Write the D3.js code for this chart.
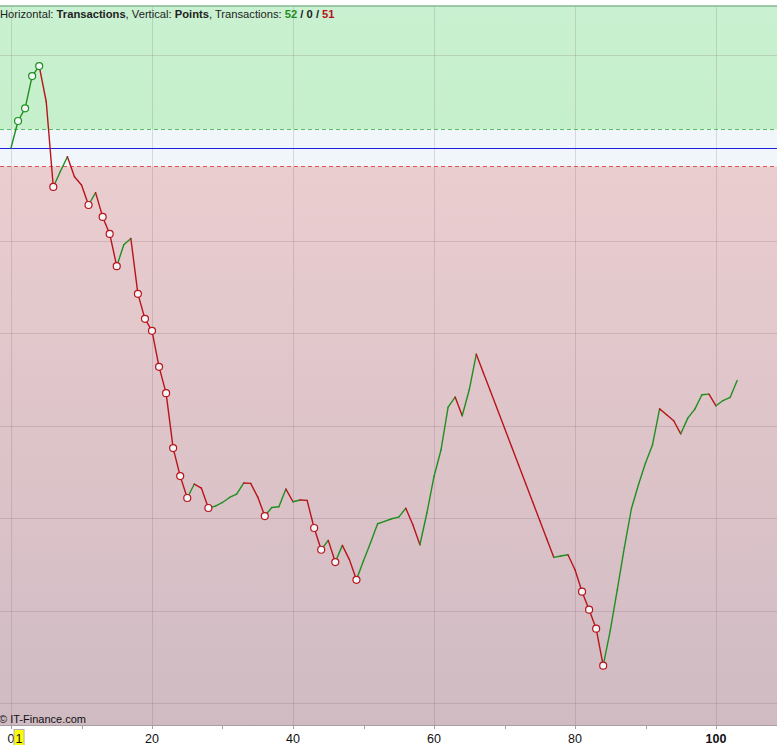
<!DOCTYPE html>
<html>
<head>
<meta charset="utf-8">
<script src="https://cdn.jsdelivr.net/npm/d3@7"></script>
<style>
  html, body { margin: 0; padding: 0; background: #ffffff; }
  svg { display: block; }
  text { font-family: "Liberation Sans", Arial, sans-serif; }
</style>
</head>
<body>
<svg id="chart" width="777" height="745"></svg>
<script>
// ---- data ----
const transactions = d3.range(0, 104);
const points = [
  0, 29.2, 42.9, 77.8, 88.6, 50.0, -42.1, -25.4, -9.4, -31.0,
  -40.0, -61.6, -48.3, -74.5, -92.9, -127.8, -104.5, -97.8, -157.7, -184.7,
  -197.7, -236.6, -265.0, -324.4, -354.7, -378.4, -363.3, -367.6, -389.2, -387.1,
  -383.2, -377.8, -374.1, -362.2, -362.6, -377.4, -397.9, -388.6, -387.8, -368.7,
  -382.4, -380.6, -381.0, -410.8, -434.3, -424.2, -447.6, -429.6, -445.0, -466.8,
  -446.2, -426.7, -406.2, -403.7, -400.8, -399.0, -389.5, -407.3, -428.9, -394.3,
  -355.1, -326.2, -280.1, -269.3, -289.5, -261.4, -222.9, -242.9, -262.8, -282.8,
  -302.8, -322.8, -342.8, -362.8, -382.7, -402.7, -422.7, -442.6, -441.1, -439.7,
  -455.9, -479.7, -499.1, -519.6, -559.6, -521.8, -477.5, -432.1, -390.0, -364.1,
  -340.6, -320.8, -282.0, -288.4, -294.9, -309.0, -292.0, -282.3, -266.8, -266.1,
  -278.7, -273.0, -269.7, -251.4
];
const xMajorTicks = [0, 20, 40, 60, 80, 100];
const xMinorTicks = [10, 30, 50, 70, 90];
const yGridTicks = [100, 0, -100, -200, -300, -400, -500, -600];
const upperBand = 20;
const lowerBand = -20;
const highlightedX = 1;

// ---- layout ----
const plotTop = 6, plotBottom = 725, plotLeft = 0, plotRight = 777;
const crisp = v => Math.round(v) + 0.5;

const svg = d3.select("#chart");
const x = d3.scaleLinear().domain([0, 100]).range([11, 716]);
const y = d3.scaleLinear().domain([0, -600]).range([148, 703]);

const defs = svg.append("defs");
const rg = defs.append("linearGradient").attr("id", "redGrad").attr("x1", 0).attr("y1", 0).attr("x2", 0).attr("y2", 1);
rg.append("stop").attr("offset", "0%").attr("stop-color", "#eacdcf");
rg.append("stop").attr("offset", "100%").attr("stop-color", "#d0bbc3");
const gg = defs.append("linearGradient").attr("id", "greenGrad").attr("x1", 0).attr("y1", 0).attr("x2", 0).attr("y2", 1);
gg.append("stop").attr("offset", "0%").attr("stop-color", "#c9f1d1");
gg.append("stop").attr("offset", "100%").attr("stop-color", "#c6efcb");
defs.append("clipPath").attr("id", "plotClip").append("rect")
  .attr("x", plotLeft).attr("y", plotTop).attr("width", plotRight - plotLeft).attr("height", plotBottom - plotTop);

// zones
svg.append("rect").attr("x", plotLeft).attr("y", plotTop).attr("width", plotRight - plotLeft)
  .attr("height", y(upperBand) - plotTop).attr("fill", "url(#greenGrad)");
svg.append("rect").attr("x", plotLeft).attr("y", y(upperBand)).attr("width", plotRight - plotLeft)
  .attr("height", y(lowerBand) - y(upperBand)).attr("fill", "#f0f6fa");
svg.append("rect").attr("x", plotLeft).attr("y", y(lowerBand)).attr("width", plotRight - plotLeft)
  .attr("height", plotBottom - y(lowerBand)).attr("fill", "url(#redGrad)");

// grid
const grid = svg.append("g");
grid.selectAll(".hg").data(yGridTicks).enter().append("line")
  .attr("x1", plotLeft).attr("x2", plotRight)
  .attr("y1", d => crisp(y(d))).attr("y2", d => crisp(y(d)))
  .attr("stroke", "#6a5058").attr("stroke-opacity", 0.18).attr("stroke-width", 1);
grid.selectAll(".vg").data(xMajorTicks).enter().append("line")
  .attr("y1", plotTop).attr("y2", plotBottom)
  .attr("x1", d => crisp(x(d))).attr("x2", d => crisp(x(d)))
  .attr("stroke", "#6a5058").attr("stroke-opacity", 0.18).attr("stroke-width", 1);

// band lines
svg.append("line").attr("x1", plotLeft).attr("x2", plotRight)
  .attr("y1", y(upperBand)).attr("y2", y(upperBand))
  .attr("stroke", "#55c060").attr("stroke-width", 1).attr("stroke-dasharray", "4,3");
svg.append("line").attr("x1", plotLeft).attr("x2", plotRight)
  .attr("y1", y(lowerBand)).attr("y2", y(lowerBand))
  .attr("stroke", "#e05555").attr("stroke-width", 1).attr("stroke-dasharray", "4,3");
svg.append("line").attr("x1", plotLeft).attr("x2", plotRight)
  .attr("y1", crisp(y(0))).attr("y2", crisp(y(0)))
  .attr("stroke", "#1e1ee0").attr("stroke-width", 1.2);

// top border
svg.append("line").attr("x1", plotLeft).attr("x2", plotRight).attr("y1", plotTop).attr("y2", plotTop)
  .attr("stroke", "#86b990").attr("stroke-width", 1.5);
// bottom axis line
svg.append("line").attr("x1", plotLeft).attr("x2", plotRight).attr("y1", plotBottom + 0.5).attr("y2", plotBottom + 0.5)
  .attr("stroke", "#a5a0a3").attr("stroke-width", 1);

// series
const data = transactions.map((t, i) => ({ t, v: points[i] }));
const segs = [];
for (let i = 1; i < data.length; i++) segs.push({ a: data[i - 1], b: data[i], up: data[i].v > data[i - 1].v, flat: data[i].v === data[i - 1].v });
const gLine = svg.append("g").attr("clip-path", "url(#plotClip)");
gLine.selectAll(".seg").data(segs).enter().append("line")
  .attr("x1", d => x(d.a.t)).attr("y1", d => y(d.a.v))
  .attr("x2", d => x(d.b.t)).attr("y2", d => y(d.b.v))
  .attr("stroke", d => d.up ? "#1f8f1f" : "#b8141a")
  .attr("stroke-width", 1.4).attr("stroke-linecap", "round");

// markers at new extremes
let runMax = data[0].v, runMin = data[0].v;
const marks = [];
for (let i = 1; i < data.length; i++) {
  const d = data[i];
  if (d.v > runMax) { runMax = d.v; marks.push({ ...d, c: "#1f8f1f" }); }
  if (d.v < runMin) { runMin = d.v; marks.push({ ...d, c: "#b8141a" }); }
}
gLine.selectAll(".mk").data(marks).enter().append("circle")
  .attr("cx", d => x(d.t)).attr("cy", d => y(d.v)).attr("r", 3.5)
  .attr("fill", "#f4f7fa").attr("stroke", d => d.c).attr("stroke-width", 1.2);

// title
const nUp = segs.filter(s => s.up).length;
const nFlat = segs.filter(s => s.flat).length;
const nDown = segs.length - nUp - nFlat;
const title = svg.append("text").attr("x", 0).attr("y", 18).attr("font-size", 11.2).attr("fill", "#222");
title.append("tspan").text("Horizontal: ");
title.append("tspan").attr("font-weight", "bold").text("Transactions");
title.append("tspan").text(", Vertical: ");
title.append("tspan").attr("font-weight", "bold").text("Points");
title.append("tspan").text(", Transactions: ");
title.append("tspan").attr("font-weight", "bold").attr("fill", "#1f8f1f").text(nUp);
title.append("tspan").attr("font-weight", "bold").text(" / " + nFlat + " / ");
title.append("tspan").attr("font-weight", "bold").attr("fill", "#b8141a").text(nDown);

// copyright
svg.append("text").attr("x", -1).attr("y", 723).attr("font-size", 11).attr("fill", "#111").text("© IT-Finance.com");

// x axis ticks
const ax = svg.append("g");
ax.selectAll(".mt").data(xMinorTicks).enter().append("line")
  .attr("x1", d => crisp(x(d))).attr("x2", d => crisp(x(d)))
  .attr("y1", plotBottom).attr("y2", plotBottom + 4).attr("stroke", "#a5a0a3");
ax.selectAll(".Mt").data(xMajorTicks).enter().append("line")
  .attr("x1", d => crisp(x(d))).attr("x2", d => crisp(x(d)))
  .attr("y1", plotBottom).attr("y2", plotBottom + 4).attr("stroke", "#a5a0a3");
ax.selectAll(".tl").data(xMajorTicks).enter().append("text")
  .attr("x", d => x(d)).attr("y", 743).attr("text-anchor", "middle")
  .attr("font-size", 12.5).attr("fill", "#111")
  .attr("font-weight", d => d === 100 ? "bold" : "normal")
  .text(d => d);
// highlighted current x label
const hx = x(highlightedX) + 1;
ax.append("rect").attr("x", hx - 5).attr("y", 729.5).attr("width", 10).attr("height", 16)
  .attr("fill", "#ffff00").attr("stroke", "#b0b0b0").attr("stroke-width", 1);
ax.append("text").attr("x", hx).attr("y", 743).attr("text-anchor", "middle")
  .attr("font-size", 12.5).attr("fill", "#111").text(highlightedX);
</script>
</body>
</html>
